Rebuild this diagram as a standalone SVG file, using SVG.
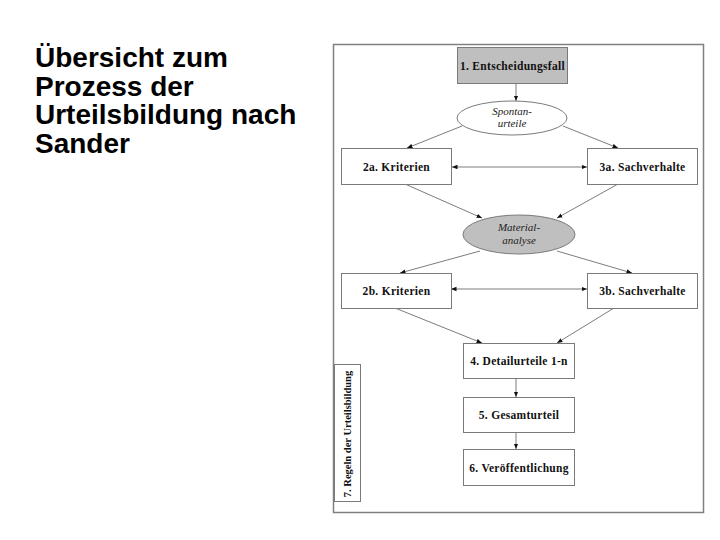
<svg xmlns="http://www.w3.org/2000/svg" width="720" height="540" viewBox="0 0 720 540">
<defs>
<style>
.title{font-family:"Liberation Sans",Arial,sans-serif;font-weight:bold;font-size:28px;fill:#000}
.box{fill:#fff;stroke:#7a7a7a;stroke-width:1}
.gray{fill:#bfbfbf}
.lbl{font-family:"Liberation Serif","Times New Roman",serif;font-weight:bold;font-size:11.5px;letter-spacing:0.3px;fill:#111;text-anchor:middle}
.rot{font-size:10.5px;letter-spacing:0}
.it{font-family:"Liberation Serif","Times New Roman",serif;font-style:italic;font-size:11px;fill:#222;text-anchor:middle}
.con{stroke:#444;stroke-width:0.7;fill:none;marker-end:url(#ah)}
</style>
<marker id="ah" viewBox="0 0 10 10" refX="10" refY="5" markerWidth="5.5" markerHeight="5.5" orient="auto-start-reverse" markerUnits="userSpaceOnUse">
<path d="M0,1 L10,5 L0,9 z" fill="#111"/>
</marker>
</defs>
<rect width="720" height="540" fill="#fff"/>
<g id="title">
<text class="title" x="35" y="67">Übersicht zum</text>
<text class="title" x="35" y="96">Prozess der</text>
<text class="title" x="35" y="124">Urteilsbildung nach</text>
<text class="title" x="35" y="153">Sander</text>
</g>
<rect id="frame" x="333.5" y="44.5" width="370" height="468" fill="none" stroke="#808080" stroke-width="1.5"/>
<g id="connectors">
<line class="con" x1="516" y1="83" x2="516" y2="101"/>
<line class="con" x1="462" y1="126" x2="407" y2="148"/>
<line class="con" x1="563" y1="126" x2="618" y2="148"/>
<line class="con" x1="452" y1="167" x2="587" y2="167" style="marker-start:url(#ah)"/>
<line class="con" x1="405" y1="184" x2="482" y2="218"/>
<line class="con" x1="618" y1="184" x2="557" y2="218"/>
<line class="con" x1="480" y1="251" x2="400" y2="273"/>
<line class="con" x1="557" y1="251" x2="632" y2="273"/>
<line class="con" x1="451" y1="289" x2="587" y2="289" style="marker-start:url(#ah)"/>
<line class="con" x1="395" y1="308" x2="482" y2="343"/>
<line class="con" x1="614" y1="308" x2="557" y2="343"/>
<line class="con" x1="516" y1="378" x2="516" y2="397"/>
<line class="con" x1="516" y1="432" x2="516" y2="449"/>
</g>
<g id="n1"><rect class="box gray" x="457.5" y="47.5" width="110" height="36"/><text class="lbl" x="512.5" y="69.5">1. Entscheidungsfall</text></g>
<g id="spontan"><ellipse class="box" cx="512" cy="118" rx="55" ry="17"/><text class="it" x="512" y="115">Spontan-</text><text class="it" x="512" y="127">urteile</text></g>
<g id="n2a"><rect class="box" x="341.5" y="148.5" width="110" height="36"/><text class="lbl" x="396.5" y="170.5">2a. Kriterien</text></g>
<g id="n3a"><rect class="box" x="587.5" y="148.5" width="110" height="36"/><text class="lbl" x="642.5" y="170.5">3a. Sachverhalte</text></g>
<g id="material"><ellipse class="box gray" cx="519" cy="234.5" rx="56" ry="19.5"/><text class="it" x="519" y="231">Material-</text><text class="it" x="519" y="244">analyse</text></g>
<g id="n2b"><rect class="box" x="341.5" y="273.5" width="110" height="35"/><text class="lbl" x="396.5" y="294.5">2b. Kriterien</text></g>
<g id="n3b"><rect class="box" x="587.5" y="273.5" width="110" height="35"/><text class="lbl" x="642.5" y="294.5">3b. Sachverhalte</text></g>
<g id="n4"><rect class="box" x="463.5" y="343.5" width="111" height="35"/><text class="lbl" x="519" y="364.5">4. Detailurteile 1-n</text></g>
<g id="n5"><rect class="box" x="463.5" y="397.5" width="111" height="35"/><text class="lbl" x="519" y="418.5">5. Gesamturteil</text></g>
<g id="n6"><rect class="box" x="463.5" y="449.5" width="111" height="36"/><text class="lbl" x="519" y="471.5">6. Veröffentlichung</text></g>
<g id="n7"><rect class="box" x="334.5" y="364.5" width="26" height="137"/><text class="lbl rot" transform="translate(351,434) rotate(-90)" x="0" y="0">7. Regeln der Urteilsbildung</text></g>
</svg>
